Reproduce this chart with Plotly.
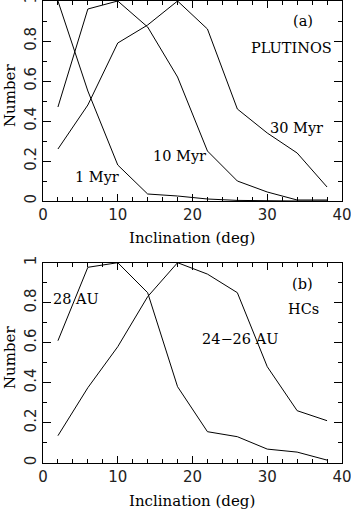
import plotly.graph_objects as go

# ---- data ----
incl = [2, 6, 10, 14, 18, 22, 26, 30, 34, 38]

plut_1myr = [1.0, 0.55, 0.18, 0.035, 0.025, 0.01, 0.003, 0.0, 0.0, 0.0]
plut_10myr = [0.47, 0.96, 1.0, 0.87, 0.62, 0.25, 0.10, 0.045, 0.005, 0.005]
plut_30myr = [0.26, 0.48, 0.79, 0.88, 1.0, 0.86, 0.46, 0.34, 0.24, 0.07]

hc_28au = [0.61, 0.977, 1.0, 0.85, 0.38, 0.155, 0.13, 0.068, 0.053, 0.013]
hc_2426au = [0.135, 0.375, 0.58, 0.83, 1.0, 0.943, 0.85, 0.48, 0.26, 0.21]

x_tickvals = [0, 10, 20, 30, 40]
x_ticktext = ["0", "10", "20", "30", "40"]
y_tickvals = [0, 0.2, 0.4, 0.6, 0.8, 1.0]
y_ticktext = ["0", "0.2", "0.4", "0.6", "0.8", "1"]

W, H = 351, 511
def px(x):
    return x / W
def py(y):
    return (H - y) / H

fig = go.Figure()
line = dict(color="black", width=1)
for ys in (plut_1myr, plut_10myr, plut_30myr):
    fig.add_trace(go.Scatter(x=incl, y=ys, mode="lines", line=line,
                             xaxis="x", yaxis="y", showlegend=False, hoverinfo="skip"))
for ys in (hc_28au, hc_2426au):
    fig.add_trace(go.Scatter(x=incl, y=ys, mode="lines", line=line,
                             xaxis="x2", yaxis="y2", showlegend=False, hoverinfo="skip"))

tickfont = dict(family="DejaVu Sans", size=15, color="#222")
xcommon = dict(range=[0, 40], tickvals=x_tickvals, ticktext=x_ticktext,
               ticks="inside", ticklen=7, tickcolor="black", tickwidth=1,
               minor=dict(dtick=2, ticks="inside", ticklen=4, tickcolor="black", tickwidth=1),
               showline=True, linecolor="black", linewidth=1, mirror="ticks",
               showgrid=False, zeroline=False, tickfont=tickfont, automargin=False,
               ticklabeloverflow="allow", domain=[px(43), px(342)])
ycommon = dict(range=[0, 1], tickvals=y_tickvals, ticktext=y_ticktext,
               ticks="inside", ticklen=8, tickcolor="black", tickwidth=1,
               minor=dict(dtick=0.1, ticks="inside", ticklen=4, tickcolor="black", tickwidth=1),
               showline=True, linecolor="black", linewidth=1, mirror="ticks",
               showgrid=False, zeroline=False, tickfont=tickfont, tickangle=-90,
               automargin=False, ticklabeloverflow="allow")

fig.update_layout(
    width=W, height=H,
    margin=dict(l=0, r=0, t=0, b=0, autoexpand=False),
    paper_bgcolor="white", plot_bgcolor="white",
    xaxis=dict(xcommon, anchor="y"),
    yaxis=dict(ycommon, anchor="x", domain=[py(201), py(1)]),
    xaxis2=dict(xcommon, anchor="y2"),
    yaxis2=dict(ycommon, anchor="x2", domain=[py(462.7), py(262.7)]),
)

serif = dict(family="DejaVu Serif", size=14.5, color="black")
title_font = dict(family="DejaVu Serif", size=15, color="black")
labels = [
    ("(a)", 303, 21), ("PLUTINOS", 291, 48), ("30 Myr", 296, 127.5),
    ("10 Myr", 180, 156.5), ("1 Myr", 97, 177),
    ("(b)", 302, 283.5), ("HCs", 303, 309), ("28 AU", 76, 298.5),
    ("24\u221226 AU", 240, 339),
]
for text, x, y in labels:
    fig.add_annotation(text=text, x=px(x), y=py(y), xref="paper", yref="paper",
                       showarrow=False, font=serif, xanchor="center", yanchor="middle")
for y in (238, 500.5):
    fig.add_annotation(text="Inclination (deg)", x=px(192), y=py(y), xref="paper",
                       yref="paper", showarrow=False, font=title_font,
                       xanchor="center", yanchor="middle")
for y in (96, 358):
    fig.add_annotation(text="Number", x=px(10), y=py(y), xref="paper", yref="paper",
                       showarrow=False, font=title_font, textangle=-90,
                       xanchor="center", yanchor="middle")

fig.write_html(
    "out.html",
    config={"displayModeBar": False, "staticPlot": True},
    post_script=("document.body.style.margin='0';document.body.style.overflow='hidden';"
                 "document.documentElement.style.overflow='hidden';"),
)
